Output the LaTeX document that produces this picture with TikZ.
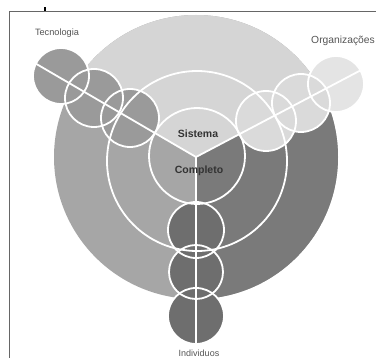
\documentclass[tikz,border=0pt]{standalone}
\usepackage{fontspec}
\setmainfont{Liberation Sans}
\definecolor{toplight}{HTML}{D5D5D5}
\definecolor{leftmid}{HTML}{A6A6A6}
\definecolor{rightdark}{HTML}{7A7A7A}
\definecolor{techc}{HTML}{9A9A9A}
\definecolor{orgc}{HTML}{DADADA}
\definecolor{orgc2}{HTML}{E4E4E4}
\definecolor{indc}{HTML}{6E6E6E}
\definecolor{labelc}{HTML}{555555}
\definecolor{centc}{HTML}{333333}
\begin{document}
\begin{tikzpicture}[x=1pt,y=-1pt,
  wline/.style={draw=white,line width=1.8pt},
  lab/.style={text=labelc,inner sep=0pt},
  centlab/.style={text=centc,font=\fontsize{10.5}{12}\selectfont\bfseries,inner sep=0pt},
  frameline/.style={draw=gray!80!black,line width=0.8pt}]
\useasboundingbox (0,0) rectangle (376,358);
\begin{scope}
\clip (0,0) rectangle (376,358);
\fill[white] (0,0) rectangle (376,358);
% key points
\coordinate (J) at (196,157);
\coordinate (L) at (33,62);
\coordinate (R) at (365,68);
\coordinate (B) at (196,343);
\coordinate (BC) at (196,157);
% big circle sectors
\fill[leftmid] (BC) circle (142);
\begin{scope}
  \clip (BC) circle (142);
  \fill[toplight] (J) -- (-48,15) -- (-48,-50) -- (450,-50) -- (450,24) -- cycle;
  \fill[rightdark] (J) -- (450,24) -- (450,400) -- (196,400) -- cycle;
\end{scope}
% small circle fills
\fill[techc] (61,76) circle (28);
\fill[techc] (94,98) circle (29);
\fill[techc] (130,118) circle (29);
\fill[orgc2] (336,84) circle (28);
\fill[orgc] (301,103) circle (29);
\fill[orgc] (266,121) circle (30);
\fill[indc] (196,230) circle (28);
\fill[indc] (196,272) circle (27);
\fill[indc] (196,316) circle (28);
% white outlines
\path[wline] (197,161) circle (90);
\path[wline] (197,156) circle (48);
\path[wline] (61,76) circle (28);
\path[wline] (94,98) circle (29);
\path[wline] (130,118) circle (29);
\path[wline] (336,84) circle (28);
\path[wline] (301,103) circle (29);
\path[wline] (266,121) circle (30);
\path[wline] (196,230) circle (28);
\path[wline] (196,272) circle (27);
\path[wline] (196,316) circle (28);
\draw[wline] (L) -- (J) -- (R);
\draw[wline] (J) -- (B);
% labels
\node[centlab] (sis) at (198,134) {Sistema};
\node[centlab] (comp) at (199,171) {Completo};
\node[lab,font=\fontsize{9.2}{11}\selectfont] (tec) at (57,33) {Tecnologia};
\node[lab,font=\fontsize{10.3}{12}\selectfont,anchor=east] (org) at (375,41) {Organizações};
\node[lab,font=\fontsize{9}{11}\selectfont,anchor=base] (ind) at (199,356.5) {Individuos};
% frame
\draw[frameline] (9,358) -- (9,11) -- (376,11);
\draw[black,line width=1.2pt] (45,7.5) -- (45,11);
\end{scope}
\end{tikzpicture}
\end{document}
